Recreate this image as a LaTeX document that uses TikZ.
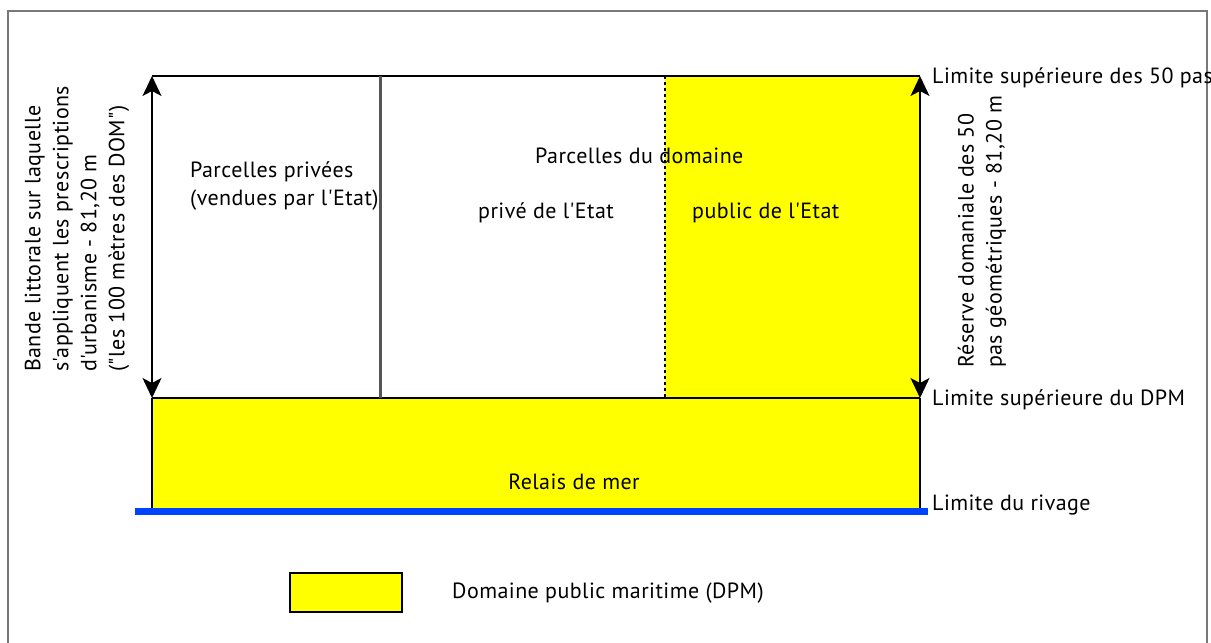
\documentclass[tikz,border=0pt]{standalone}
\usepackage{fontspec}
\newfontfamily\lblfont{PT Sans}[LetterSpace=2]
\usetikzlibrary{arrows.meta}
\definecolor{dpmyellow}{RGB}{255,255,0}
\definecolor{seablue}{RGB}{0,68,255}
\definecolor{framegray}{RGB}{120,120,120}
\definecolor{sepgray}{RGB}{85,85,85}
\tikzset{
  lbl/.style={inner sep=0pt, font=\lblfont\fontsize{22}{28}\selectfont, text=black},
  dim/.style={line width=1.6pt, {Stealth[length=20pt,width=19pt,inset=5pt]}-{Stealth[length=20pt,width=19pt,inset=5pt]}},
  edge/.style={line width=1.8pt, black},
}
\begin{document}
\begin{tikzpicture}[x=1pt,y=-1pt]
\useasboundingbox (0,0) rectangle (1211,643);
% outer frame
\draw[framegray, line width=2pt] (8,643) -- (8,11) -- (1207,11) -- (1207,643);
% coordinates
\coordinate (TL) at (152,76);
\coordinate (TR) at (920,76);
\coordinate (ML) at (152,398);
\coordinate (MR) at (920,398);
\coordinate (BL) at (152,508);
\coordinate (BR) at (920,508);
\coordinate (PT) at (380,76);
\coordinate (PB) at (380,398);
\coordinate (DT) at (665,76);
\coordinate (DB) at (665,398);
% yellow areas
\fill[dpmyellow] (DT) rectangle (MR);
\fill[dpmyellow] (ML) rectangle (BR);
% blue shoreline
\draw[seablue, line width=7pt] (135,511.5) -- (928,511.5);
% lines
\draw[edge] (TL) -- (TR);
\draw[edge] (ML) -- (MR);
\draw[edge] (ML) -- (BL);
\draw[edge] (MR) -- (BR);
\draw[sepgray, line width=3pt] (PT) -- (PB);
\draw[black, line width=1.8pt, dash pattern=on 3pt off 3pt] (DT) -- (DB);
\draw[dim] (ML) -- (TL);
\draw[dim] (MR) -- (TR);
% texts
\node[lbl, anchor=west, align=left] (priv) at (190,186) {Parcelles privées\\(vendues par l'Etat)};
\node[lbl, anchor=west] (dom) at (535,156) {Parcelles du domaine};
\node[lbl, anchor=west] (prive) at (478,213) {privé de l'Etat};
\node[lbl, anchor=west] (public) at (692,213) {public de l'Etat};
\node[lbl] (relais) at (574,482) {Relais de mer};
\node[lbl, anchor=west] (lim50) at (932,78) {Limite supérieure des 50 pas};
\node[lbl, anchor=west] (limdpm) at (932,400) {Limite supérieure du DPM};
\node[lbl, anchor=west] (limriv) at (932,505) {Limite du rivage};
\node[lbl, rotate=90, anchor=west, align=left] (bande) at (77,372)
  {Bande littorale sur laquelle\\s'appliquent les prescriptions\\d'urbanisme - 81,20 m\\("les 100 mètres des DOM")};
\node[lbl, rotate=90, anchor=west, align=left] (reserve) at (982,368)
  {Réserve domaniale des 50\\pas géométriques - 81,20 m};
% legend
\draw[black, line width=1.5pt, fill=dpmyellow] (290,573) rectangle (402,612);
\node[lbl, anchor=west] (legtxt) at (452,593) {Domaine public maritime (DPM)};
\end{tikzpicture}
\end{document}
